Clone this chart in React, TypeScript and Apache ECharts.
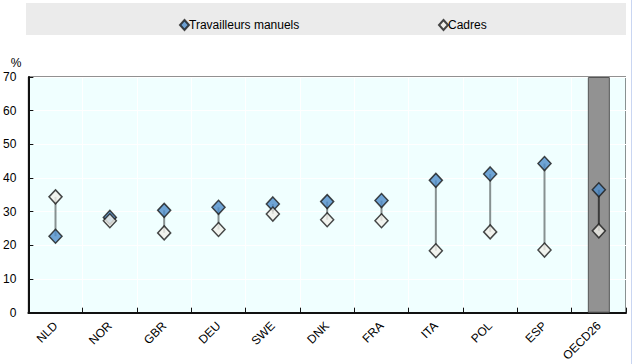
import React, { useEffect, useRef } from "react";
import * as echarts from "echarts";

const categories = ["NLD", "NOR", "GBR", "DEU", "SWE", "DNK", "FRA", "ITA", "POL", "ESP", "OECD26"];
const manuels = [22.7, 28.3, 30.4, 31.3, 32.3, 33.0, 33.3, 39.3, 41.2, 44.3, 36.5];
const cadres = [34.4, 27.3, 23.7, 24.7, 29.3, 27.6, 27.3, 18.4, 24.0, 18.6, 24.3];
const seriesNames = ["Travailleurs manuels", "Cadres"];
const yTicks = [0, 10, 20, 30, 40, 50, 60, 70];
const highlightIndex = 10;

export default function App() {
  const ref = useRef<HTMLDivElement>(null);
  useEffect(() => {
    if (!ref.current) return;
    const chart = echarts.init(ref.current, undefined, { renderer: "svg" });
    const font = "'Liberation Sans', Arial, sans-serif";
    const bandData = categories.map((_, i) => (i === highlightIndex ? yTicks[yTicks.length - 1] : null));
    const rangeData = categories.map((_, i) => [i, manuels[i], cadres[i]]);
    chart.setOption({
      animation: false,
      textStyle: { fontFamily: font },
      graphic: [
        {
          type: "rect",
          shape: { x: 26, y: 3, width: 600, height: 32 },
          style: { fill: "#EBEBEB" },
          z: -10,
        },
        {
          type: "line",
          shape: { x1: 631.5, y1: 0, x2: 631.5, y2: 364 },
          style: { stroke: "#C9D6F2", lineWidth: 1 },
        },
        {
          type: "text",
          x: 16,
          y: 63,
          style: { text: "%", fontSize: 12, fontFamily: font, fill: "#000", align: "center", verticalAlign: "middle" },
        },
      ],
      legend: [
        {
          data: [{ name: seriesNames[0], icon: "diamond" }],
          left: 174,
          top: 14,
          itemWidth: 9,
          itemHeight: 10,
          itemGap: 4,
          textStyle: { fontSize: 12, fontFamily: font, color: "#000", padding: [0, 0, 0, -5] },
          selectedMode: false,
        },
        {
          data: [{ name: seriesNames[1], icon: "diamond" }],
          left: 433,
          top: 14,
          itemWidth: 9,
          itemHeight: 10,
          itemGap: 4,
          textStyle: { fontSize: 12, fontFamily: font, color: "#000", padding: [0, 0, 0, -5] },
          selectedMode: false,
        },
      ],
      grid: {
        left: 26,
        right: 6,
        top: 77,
        bottom: 42,
        show: true,
        backgroundColor: "#F0FFFF",
        borderColor: "#222",
        borderWidth: 1,
      },
      xAxis: {
        type: "category",
        data: categories,
        boundaryGap: true,
        axisLine: { show: true, lineStyle: { color: "#111", width: 2 } },
        axisTick: { show: true, inside: true, length: 5, lineStyle: { color: "#111" } },
        splitLine: { show: true, lineStyle: { color: "#FFFFFF", width: 1 } },
        axisLabel: { rotate: 45, fontSize: 12, color: "#000", fontFamily: font, margin: 11 },
      },
      yAxis: {
        type: "value",
        min: 0,
        max: 70,
        interval: 10,
        axisLine: { show: true, lineStyle: { color: "#111", width: 2 } },
        axisTick: { show: true, inside: true, length: 5, lineStyle: { color: "#111" } },
        splitLine: { show: true, lineStyle: { color: "#FFFFFF", width: 1 } },
        axisLabel: { fontSize: 12, color: "#000", fontFamily: font, margin: 12 },
      },
      series: [
        {
          type: "bar",
          data: bandData,
          barWidth: 22,
          silent: true,
          itemStyle: { color: "#929292", borderColor: "#555", borderWidth: 1 },
          z: 1,
        },
        {
          type: "custom",
          data: rangeData,
          encode: { x: 0, y: [1, 2] },
          z: 2,
          silent: true,
          renderItem: (params: any, api: any) => {
            const i = api.value(0);
            const p1 = api.coord([i, api.value(1)]);
            const p2 = api.coord([i, api.value(2)]);
            return {
              type: "line",
              shape: { x1: p1[0], y1: p1[1], x2: p2[0], y2: p2[1] },
              style: { stroke: i === highlightIndex ? "#3a3a3a" : "#879191", lineWidth: 2 },
            };
          },
        },
        {
          name: seriesNames[0],
          type: "scatter",
          data: manuels,
          symbol: "diamond",
          symbolSize: [13, 14],
          itemStyle: { color: "#4F8DCB", borderColor: "#1a1a1a", borderWidth: 1.5 },
          z: 3,
        },
        {
          name: seriesNames[1],
          type: "scatter",
          data: cadres,
          symbol: "diamond",
          symbolSize: [13, 14],
          itemStyle: { color: "#F1F0EA", borderColor: "#1a1a1a", borderWidth: 1.5 },
          z: 4,
        },
      ],
    });
    return () => chart.dispose();
  }, []);
  return (
    <div
      ref={ref}
      style={{ position: "fixed", left: 0, top: 0, width: 632, height: 364, background: "#fff" }}
    />
  );
}
